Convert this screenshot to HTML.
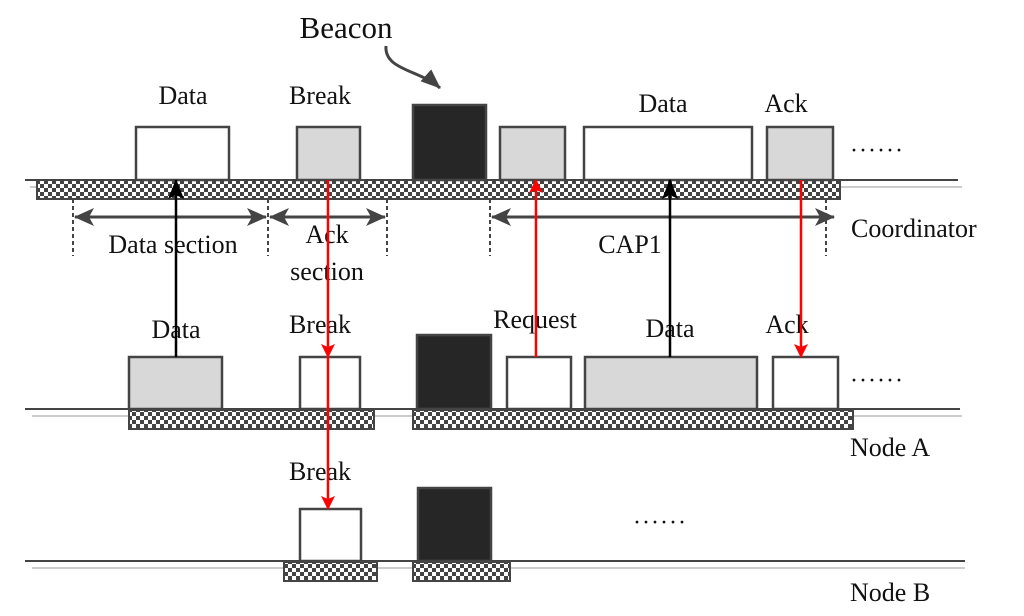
<!DOCTYPE html>
<html><head><meta charset="utf-8"><style>
html,body{margin:0;padding:0;background:#fff;}
svg{display:block;}
text{font-family:"Liberation Serif",serif;fill:#111;}
</style></head><body>
<svg width="1024" height="616" viewBox="0 0 1024 616" xmlns="http://www.w3.org/2000/svg">
<defs>
<pattern id="ck" width="8" height="8" patternUnits="userSpaceOnUse">
<rect width="8" height="8" fill="#fff"/>
<rect width="4" height="4" fill="#444"/>
<rect x="4" y="4" width="4" height="4" fill="#444"/>
</pattern>
<marker id="ab" markerWidth="10" markerHeight="10" refX="9" refY="5" orient="auto" markerUnits="userSpaceOnUse" viewBox="0 0 10 10"><path d="M0,0 L10,5 L0,10 Z" fill="#000"/></marker>
<marker id="ar" markerWidth="14" markerHeight="14" refX="13" refY="7" orient="auto" markerUnits="userSpaceOnUse" viewBox="0 0 14 14"><path d="M0,0 L14,7 L0,14 L3,7 Z" fill="#f00"/></marker>
<marker id="ak" markerWidth="20" markerHeight="20" refX="19" refY="10" orient="auto" markerUnits="userSpaceOnUse" viewBox="0 0 20 20"><path d="M0,2 L20,10 L0,18 L4,10 Z" fill="#000"/></marker>
<marker id="ag" markerWidth="20" markerHeight="18" refX="19" refY="9" orient="auto-start-reverse" markerUnits="userSpaceOnUse" viewBox="0 0 20 18"><path d="M0,0 L20,9 L0,18 L5,9 Z" fill="#444"/></marker>
<marker id="abc" markerWidth="20" markerHeight="20" refX="19" refY="10" orient="auto" markerUnits="userSpaceOnUse" viewBox="0 0 20 20"><path d="M0,2 L20,10 L0,18 Z" fill="#444"/></marker>
</defs>

<!-- Coordinator -->
<line x1="25" y1="180" x2="958" y2="180" stroke="#444" stroke-width="2"/>
<line x1="30" y1="187" x2="962" y2="187" stroke="#ccc" stroke-width="2"/>
<rect x="37" y="180" width="803" height="19" fill="url(#ck)" stroke="#444" stroke-width="2"/>
<g stroke="#444" stroke-width="2.5">
<rect x="136" y="127" width="93" height="53" fill="#fff"/>
<rect x="297" y="127" width="63" height="53" fill="#d8d8d8"/>
<rect x="413" y="105" width="73" height="75" fill="#262626"/>
<rect x="500" y="127" width="65" height="53" fill="#d8d8d8"/>
<rect x="584" y="127" width="168" height="53" fill="#fff"/>
<rect x="767" y="127" width="66" height="53" fill="#d8d8d8"/>
</g>
<text x="850" y="158" font-size="24" letter-spacing="1">······</text>
<text x="183" y="104" font-size="26" text-anchor="middle">Data</text>
<text x="320" y="104" font-size="26" text-anchor="middle">Break</text>
<text x="346" y="38" font-size="31" text-anchor="middle">Beacon</text>
<text x="663" y="112" font-size="26" text-anchor="middle">Data</text>
<text x="786" y="112" font-size="26" text-anchor="middle">Ack</text>
<path d="M386,46 C384,70 420,70 440,88" fill="none" stroke="#444" stroke-width="3" marker-end="url(#abc)"/>

<g stroke="#444" stroke-width="2" stroke-dasharray="4,3">
<line x1="73" y1="199" x2="73" y2="256"/>
<line x1="268" y1="199" x2="268" y2="256"/>
<line x1="387" y1="199" x2="387" y2="256"/>
<line x1="490" y1="199" x2="490" y2="256"/>
<line x1="826" y1="199" x2="826" y2="256"/>
</g>
<g stroke="#444" stroke-width="3">
<line x1="75" y1="217" x2="266" y2="217" marker-start="url(#ag)" marker-end="url(#ag)"/>
<line x1="270" y1="217" x2="385" y2="217" marker-start="url(#ag)" marker-end="url(#ag)"/>
<line x1="492" y1="217" x2="834" y2="217" marker-start="url(#ag)" marker-end="url(#ag)"/>
</g>
<text x="173" y="253" font-size="26" text-anchor="middle">Data section</text>
<text x="327" y="243" font-size="26" text-anchor="middle">Ack</text>
<text x="327" y="280" font-size="26" text-anchor="middle">section</text>
<text x="630" y="253" font-size="26" text-anchor="middle">CAP1</text>
<text x="851" y="237" font-size="26">Coordinator</text>

<!-- Node A -->
<line x1="25" y1="409" x2="960" y2="409" stroke="#444" stroke-width="2"/>
<line x1="32" y1="416" x2="962" y2="416" stroke="#ccc" stroke-width="2"/>
<rect x="129" y="410" width="245" height="19" fill="url(#ck)" stroke="#444" stroke-width="2"/>
<rect x="413" y="410" width="440" height="19" fill="url(#ck)" stroke="#444" stroke-width="2"/>
<g stroke="#444" stroke-width="2.5">
<rect x="129" y="357" width="93" height="52" fill="#d8d8d8"/>
<rect x="300" y="357" width="60" height="52" fill="#fff"/>
<rect x="417" y="335" width="74" height="74" fill="#262626"/>
<rect x="507" y="357" width="64" height="52" fill="#fff"/>
<rect x="585" y="357" width="172" height="52" fill="#d8d8d8"/>
<rect x="773" y="357" width="65" height="52" fill="#fff"/>
</g>
<text x="850" y="388" font-size="24" letter-spacing="1">······</text>
<text x="176" y="338" font-size="26" text-anchor="middle">Data</text>
<text x="320" y="333" font-size="26" text-anchor="middle">Break</text>
<text x="535" y="328" font-size="26" text-anchor="middle">Request</text>
<text x="670" y="337" font-size="26" text-anchor="middle">Data</text>
<text x="787" y="333" font-size="26" text-anchor="middle">Ack</text>
<text x="850" y="456" font-size="26">Node A</text>

<!-- Node B -->
<line x1="25" y1="561" x2="965" y2="561" stroke="#444" stroke-width="2"/>
<line x1="32" y1="568" x2="965" y2="568" stroke="#ccc" stroke-width="2"/>
<rect x="284" y="562" width="93" height="19" fill="url(#ck)" stroke="#444" stroke-width="2"/>
<rect x="413" y="562" width="97" height="19" fill="url(#ck)" stroke="#444" stroke-width="2"/>
<g stroke="#444" stroke-width="2.5">
<rect x="300" y="509" width="61" height="52" fill="#fff"/>
<rect x="418" y="488" width="73" height="73" fill="#262626"/>
</g>
<text x="633" y="530" font-size="24" letter-spacing="1">······</text>
<text x="320" y="480" font-size="26" text-anchor="middle">Break</text>
<text x="850" y="601" font-size="26">Node B</text>

<!-- Vertical arrows -->
<line x1="176" y1="357" x2="176" y2="180" stroke="#000" stroke-width="2.5" marker-end="url(#ak)"/>
<line x1="670" y1="357" x2="670" y2="180" stroke="#000" stroke-width="2.5" marker-end="url(#ak)"/>
<line x1="536" y1="357" x2="536" y2="180" stroke="#f00" stroke-width="2.5" marker-end="url(#ar)"/>
<line x1="801" y1="180" x2="801" y2="357" stroke="#f00" stroke-width="2.5" marker-end="url(#ar)"/>
<line x1="328" y1="180" x2="328" y2="357" stroke="#f00" stroke-width="2.5" marker-end="url(#ar)"/>
<line x1="328" y1="357" x2="328" y2="509" stroke="#f00" stroke-width="2.5" marker-end="url(#ar)"/>
</svg>
</body></html>
